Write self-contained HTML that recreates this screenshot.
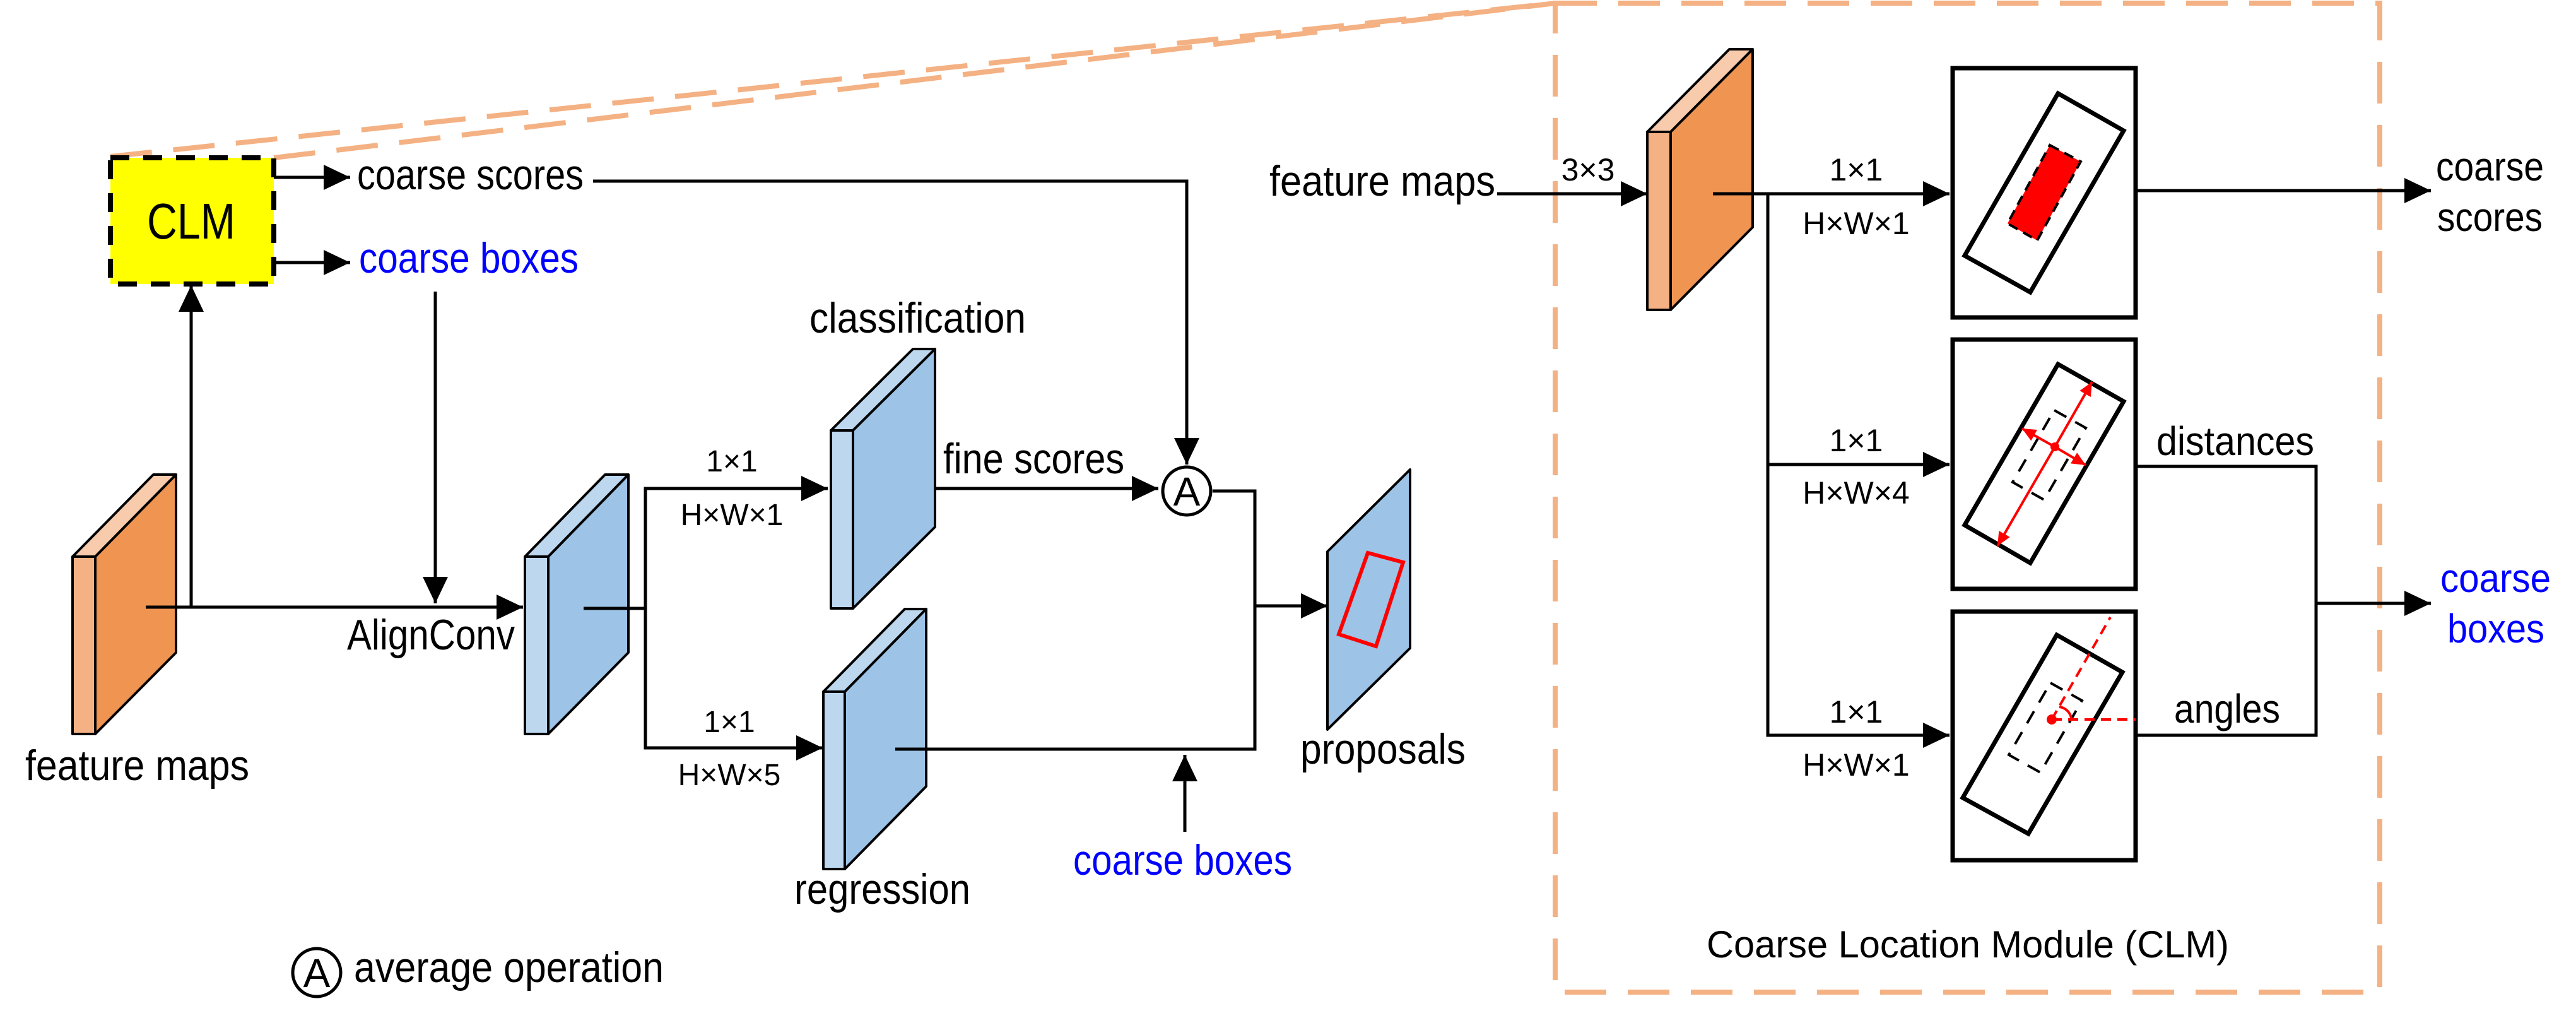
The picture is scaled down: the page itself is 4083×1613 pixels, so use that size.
<!DOCTYPE html>
<html><head><meta charset="utf-8"><style>html,body{margin:0;padding:0;background:#fff}svg{display:block}</style></head>
<body>
<svg width="4083" height="1613" viewBox="0 0 4083 1613" xmlns="http://www.w3.org/2000/svg" font-family="Liberation Sans, sans-serif">
<defs>
<marker id="ah" markerUnits="userSpaceOnUse" markerWidth="44" markerHeight="40" refX="42" refY="20" orient="auto"><path d="M0,0 L42,20 L0,40 z" fill="#000"/></marker>
<marker id="rh" markerUnits="userSpaceOnUse" markerWidth="24" markerHeight="20" refX="22" refY="10" orient="auto"><path d="M0,0 L22,10 L0,20 z" fill="#f00"/></marker>
</defs>
<g stroke="#F4B183" stroke-width="8" fill="none" stroke-dasharray="66,34">
<line x1="175" y1="248" x2="2465" y2="5"/>
<line x1="434" y1="250" x2="2465" y2="5"/>
<rect x="2465" y="5" width="1307" height="1567"/>
</g>
<rect x="175" y="250" width="259" height="200" fill="#FFFF00" stroke="#000" stroke-width="8" stroke-dasharray="30,22"/>
<text x="303" y="378" font-size="80" text-anchor="middle" textLength="140" lengthAdjust="spacingAndGlyphs">CLM</text>
<g stroke="#000" stroke-width="5" fill="none">
<line x1="434" y1="281" x2="555" y2="281" marker-end="url(#ah)"/>
<line x1="434" y1="416" x2="555" y2="416" marker-end="url(#ah)"/>
<polyline points="940,287 1881,287 1881,736" marker-end="url(#ah)"/>
<line x1="690" y1="462" x2="690" y2="956" marker-end="url(#ah)"/>
<line x1="231" y1="962" x2="829" y2="962" marker-end="url(#ah)"/>
<line x1="303" y1="962" x2="303" y2="452" marker-end="url(#ah)"/>
<line x1="925" y1="964" x2="1023" y2="964"/>
<polyline points="1312,774 1023,774 1023,1185 1304,1185" marker-end="url(#ah)"/>
<line x1="1023" y1="774" x2="1312" y2="774" marker-end="url(#ah)"/>
<line x1="1419" y1="774" x2="1836" y2="774" marker-end="url(#ah)"/>
<polyline points="1922,778 1989,778 1989,1187 1411,1187"/>
<line x1="1989" y1="960" x2="2104" y2="960" marker-end="url(#ah)"/>
<line x1="1878" y1="1318" x2="1878" y2="1196" marker-end="url(#ah)"/>
</g>
<circle cx="1881" cy="778" r="38" fill="#fff" stroke="#000" stroke-width="5"/>
<text x="1881" y="801" font-size="64" text-anchor="middle">A</text>
<g stroke="#000" stroke-width="4" stroke-linejoin="round">
<polygon points="115,882 151,882 279,752 243,752" fill="#F8CBAD"/>
<polygon points="151,882 279,752 279,1034 151,1163" fill="#F09452"/>
<rect x="115" y="882" width="36" height="281" fill="#F4B183"/>
<polygon points="832,882 869,882 996,752 959,752" fill="#BDD7EE"/>
<polygon points="869,882 996,752 996,1034 869,1163" fill="#9DC3E6"/>
<rect x="832" y="882" width="37" height="281" fill="#BDD7EE"/>
<polygon points="1317,682 1352,682 1482,553 1447,553" fill="#BDD7EE"/>
<polygon points="1352,682 1482,553 1482,835 1352,964" fill="#9DC3E6"/>
<rect x="1317" y="682" width="35" height="282" fill="#BDD7EE"/>
<polygon points="1305,1096 1339,1096 1468,965 1434,965" fill="#BDD7EE"/>
<polygon points="1339,1096 1468,965 1468,1246 1339,1377" fill="#9DC3E6"/>
<rect x="1305" y="1096" width="34" height="281" fill="#BDD7EE"/>
<polygon points="2104,874 2235,744 2235,1027 2104,1156" fill="#9DC3E6"/>
<polygon points="2611,209 2648,209 2778,78 2741,78" fill="#F8CBAD"/>
<polygon points="2648,209 2778,78 2778,360 2648,491" fill="#F09452"/>
<rect x="2611" y="209" width="37" height="282" fill="#F4B183"/>
</g>
<g stroke="#000" stroke-width="5" fill="none">
<line x1="231" y1="962" x2="303" y2="962"/>
<line x1="925" y1="964" x2="1023" y2="964"/>
<line x1="1419" y1="1187" x2="1989" y2="1187"/>
</g>
<polygon points="2168,876 2224,891 2181,1024 2122,1005" fill="none" stroke="#f00" stroke-width="6"/>
<g font-size="68">
<text x="566" y="300" textLength="359" lengthAdjust="spacingAndGlyphs">coarse scores</text>
<text x="569" y="432" fill="#0000FF" textLength="348" lengthAdjust="spacingAndGlyphs">coarse boxes</text>
<text x="40" y="1236" textLength="355" lengthAdjust="spacingAndGlyphs">feature maps</text>
<text x="550" y="1029" textLength="266" lengthAdjust="spacingAndGlyphs">AlignConv</text>
<text x="1283" y="527" textLength="343" lengthAdjust="spacingAndGlyphs">classification</text>
<text x="1495" y="750" textLength="287" lengthAdjust="spacingAndGlyphs">fine scores</text>
<text x="1259" y="1432" textLength="279" lengthAdjust="spacingAndGlyphs">regression</text>
<text x="1701" y="1386" fill="#0000FF" textLength="347" lengthAdjust="spacingAndGlyphs">coarse boxes</text>
<text x="2061" y="1210" textLength="262" lengthAdjust="spacingAndGlyphs">proposals</text>
<text x="561" y="1556" textLength="491" lengthAdjust="spacingAndGlyphs">average operation</text>
<text x="2012" y="310" textLength="358" lengthAdjust="spacingAndGlyphs">feature maps</text>
</g>
<circle cx="502" cy="1541" r="38" fill="#fff" stroke="#000" stroke-width="5"/>
<text x="502" y="1564" font-size="64" text-anchor="middle">A</text>
<g font-size="48" text-anchor="middle">
<text x="1160" y="747">1×1</text>
<text x="1160" y="832">H×W×1</text>
<text x="1156" y="1160">1×1</text>
<text x="1156" y="1244">H×W×5</text>
</g>
<g stroke="#000" stroke-width="5" fill="none">
<line x1="2373" y1="307" x2="2611" y2="307" marker-end="url(#ah)"/>
<line x1="2715" y1="307" x2="3090" y2="307" marker-end="url(#ah)"/>
<polyline points="2802,307 2802,1165 3090,1165" marker-end="url(#ah)"/>
<line x1="2802" y1="736" x2="3090" y2="736" marker-end="url(#ah)"/>
<line x1="3385" y1="302" x2="3853" y2="302" marker-end="url(#ah)"/>
<polyline points="3385,739 3671,739 3671,1165 3385,1165"/>
<line x1="3671" y1="956" x2="3853" y2="956" marker-end="url(#ah)"/>
</g>
<g stroke="#000" stroke-width="7" fill="none">
<rect x="3095" y="108" width="290" height="395"/>
<rect x="3095" y="538" width="290" height="395"/>
<rect x="3095" y="969" width="290" height="394"/>
<polygon points="3262,148 3366,207 3218,463 3114,405"/>
<polygon points="3262,577 3366,636 3218,892 3114,832"/>
<polygon points="3260,1006 3364,1065 3215,1321 3111,1264"/>
</g>
<polygon points="3249,230 3298,256 3229,381 3182,354" fill="#f00" stroke="#000" stroke-width="4" stroke-dasharray="16,10"/>
<g stroke="#000" stroke-width="4" fill="none" stroke-dasharray="22,16">
<polygon points="3256,650 3306,678 3240,792 3190,764"/>
<polygon points="3250,1082 3300,1110 3234,1224 3184,1196"/>
</g>
<g stroke="#f00" stroke-width="4" fill="none">
<line x1="3257" y1="708" x2="3316" y2="605" marker-end="url(#rh)"/>
<line x1="3257" y1="708" x2="3166" y2="865" marker-end="url(#rh)"/>
<line x1="3257" y1="708" x2="3205" y2="679" marker-end="url(#rh)"/>
<line x1="3257" y1="708" x2="3306" y2="737" marker-end="url(#rh)"/>
<line x1="3252" y1="1140" x2="3345" y2="978" stroke-dasharray="16,10"/>
<line x1="3252" y1="1140" x2="3385" y2="1140" stroke-dasharray="16,10"/>
<path d="M3264,1120 A22,22 0 0 1 3283,1138"/>
</g>
<circle cx="3257" cy="708" r="7" fill="#f00"/>
<circle cx="3252" cy="1140" r="8" fill="#f00"/>
<g font-size="50" text-anchor="middle">
<text x="2517" y="286">3×3</text>
<text x="2942" y="286">1×1</text>
<text x="2942" y="371">H×W×1</text>
<text x="2942" y="715">1×1</text>
<text x="2942" y="798">H×W×4</text>
<text x="2942" y="1145">1×1</text>
<text x="2942" y="1229">H×W×1</text>
</g>
<g font-size="64">
<text x="3861" y="286" textLength="171" lengthAdjust="spacingAndGlyphs">coarse</text>
<text x="3863" y="366" textLength="167" lengthAdjust="spacingAndGlyphs">scores</text>
<text x="3868" y="938" fill="#0000FF" textLength="175" lengthAdjust="spacingAndGlyphs">coarse</text>
<text x="3879" y="1018" fill="#0000FF" textLength="154" lengthAdjust="spacingAndGlyphs">boxes</text>
<text x="3418" y="721" textLength="250" lengthAdjust="spacingAndGlyphs">distances</text>
<text x="3446" y="1145" textLength="168" lengthAdjust="spacingAndGlyphs">angles</text>
<text x="2705" y="1517" font-size="60" textLength="828" lengthAdjust="spacingAndGlyphs">Coarse Location Module (CLM)</text>
</g>
</svg>
</body></html>
